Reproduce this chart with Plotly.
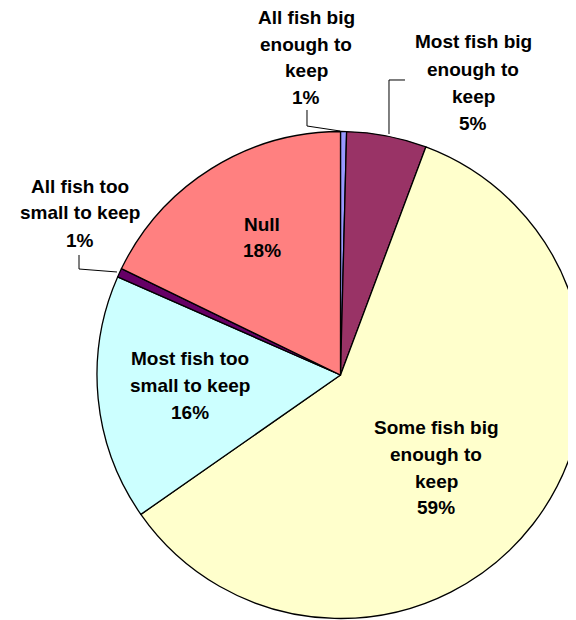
import plotly.graph_objects as go

# slices, clockwise from 12 o'clock
categories = [
    "All fish big enough to keep",
    "Most fish big enough to keep",
    "Some fish big enough to keep",
    "Most fish too small to keep",
    "All fish too small to keep",
    "Null",
]
values = [0.4, 5.3, 59.6, 16.3, 0.6, 17.8]
pct_labels = ["1%", "5%", "59%", "16%", "1%", "18%"]
colors = ["#9999FF", "#993366", "#FFFFCC", "#CCFFFF", "#660066", "#FF8080"]

# how each category name is wrapped on the chart
wrapped = [
    ["All fish big", "enough to", "keep"],
    ["Most fish big", "enough to", "keep"],
    ["Some fish big", "enough to", "keep"],
    ["Most fish too", "small to keep"],
    ["All fish too", "small to keep"],
    ["Null"],
]

W, H = 576, 620
OFF = 8  # page body margin
FONT = dict(family="Liberation Sans, Arial, sans-serif", size=19, color="#000000")


def px(x, y):
    # screen pixel -> paper coords
    return (x - OFF) / W, 1 - (y - OFF) / H


fig = go.Figure()
x0, y0 = px(97, 619)
x1, y1 = px(585, 131)
fig.add_trace(go.Pie(
    labels=categories,
    values=values,
    sort=False,
    direction="clockwise",
    rotation=0,
    textinfo="none",
    hoverinfo="label+percent",
    marker=dict(colors=colors, line=dict(color="#000000", width=1.3)),
    domain=dict(x=[x0, min(x1, 1)], y=[y0, y1]),
    showlegend=False,
))

# label block centres (pixels) and line spacing
label_pos = [(306, 17), (473, 42), (436, 427), (190, 358), (80, 186), (262, 224)]
step = 27

annotations = []
for lines, pct, (cx, top) in zip(wrapped, pct_labels, label_pos):
    for k, txt in enumerate(lines + [pct]):
        ax, ay = px(cx, top + k * step)
        annotations.append(dict(
            x=ax, y=ay, xref="paper", yref="paper",
            text="<b>%s</b>" % txt, showarrow=False,
            xanchor="center", yanchor="middle", font=FONT,
        ))

# leader lines for the small slices
def px_path(pts):
    return "M " + " L ".join("%f,%f" % px(x, y) for x, y in pts)

leaders = [
    [(307, 110), (307, 126), (340, 131)],
    [(405, 80), (389, 80), (389, 134)],
    [(79, 255), (79, 269), (117, 272)],
]
shapes = [dict(type="path", xref="paper", yref="paper", path=px_path(p),
               line=dict(color="#000000", width=1)) for p in leaders]

fig.update_layout(
    width=W, height=H,
    margin=dict(l=0, r=0, t=0, b=0),
    paper_bgcolor="#FFFFFF",
    plot_bgcolor="#FFFFFF",
    annotations=annotations,
    shapes=shapes,
)

# no scrollbars: the pie runs past the window edge like in the original
fig.write_html("out.html", post_script="document.body.style.overflow='hidden';")
